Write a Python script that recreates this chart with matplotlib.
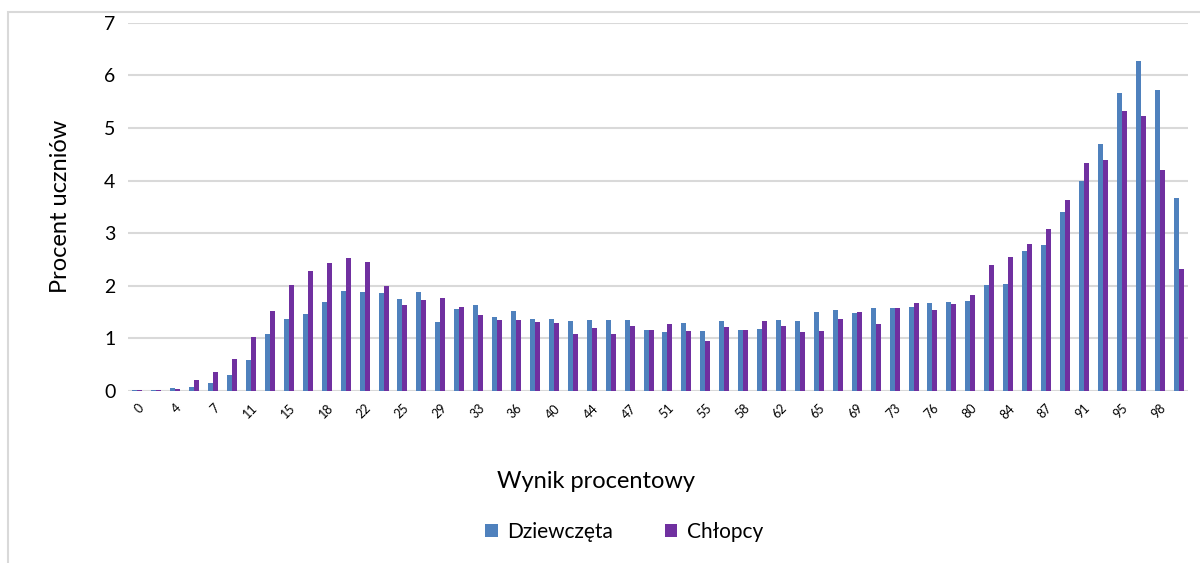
import matplotlib
matplotlib.use("Agg")
import matplotlib.pyplot as plt
import numpy as np
from matplotlib.patches import Rectangle

plt.rcParams['font.family'] = ['Lato', 'DejaVu Sans']

categories = ['0', '2', '4', '5', '7', '9', '11', '13', '15', '16', '18', '20', '22', '24',
              '25', '27', '29', '31', '33', '35', '36', '38', '40', '42', '44', '45', '47', '49',
              '51', '53', '55', '56', '58', '60', '62', '64', '65', '67', '69', '71', '73', '75',
              '76', '78', '80', '82', '84', '85', '87', '89', '91', '93', '95', '96', '98', '100']

dziewczeta = [0.01, 0.01, 0.06, 0.08, 0.15, 0.31, 0.59, 1.09, 1.36, 1.47, 1.70, 1.91, 1.89, 1.87,
              1.75, 1.89, 1.31, 1.56, 1.64, 1.41, 1.52, 1.37, 1.37, 1.33, 1.35, 1.35, 1.35, 1.16,
              1.12, 1.30, 1.14, 1.33, 1.16, 1.18, 1.35, 1.33, 1.50, 1.54, 1.49, 1.58, 1.58, 1.60,
              1.68, 1.70, 1.72, 2.01, 2.03, 2.66, 2.77, 3.40, 3.99, 4.70, 5.66, 6.27, 5.73, 3.67]

chlopcy = [0.01, 0.01, 0.04, 0.20, 0.37, 0.61, 1.03, 1.53, 2.02, 2.29, 2.44, 2.52, 2.46, 1.99,
           1.64, 1.73, 1.77, 1.60, 1.45, 1.35, 1.35, 1.31, 1.30, 1.09, 1.20, 1.09, 1.24, 1.16,
           1.28, 1.14, 0.95, 1.22, 1.16, 1.33, 1.24, 1.12, 1.14, 1.37, 1.50, 1.28, 1.58, 1.68,
           1.54, 1.66, 1.83, 2.39, 2.54, 2.79, 3.08, 3.63, 4.34, 4.39, 5.33, 5.22, 4.20, 2.31]

series_names = ['Dziewczęta', 'Chłopcy']
colors = ['#4f81bd', '#7030a0']

W, H = 1200, 563
fig = plt.figure(figsize=(12, 5.63), dpi=100)
ax = fig.add_axes([128 / W, 1 - 391 / H, (1188 - 128) / W, (391 - 22.7) / H])

x = np.arange(len(categories))
bw = 0.265
ax.bar(x - bw / 2, dziewczeta, width=bw, color=colors[0], label=series_names[0], zorder=3)
ax.bar(x + bw / 2, chlopcy, width=bw, color=colors[1], label=series_names[1], zorder=3)

ax.set_xlim(-0.5, len(categories) - 0.5)
ax.set_ylim(0, 7)
ax.set_yticks(range(0, 8))
ax.yaxis.grid(True, color='#d9d9d9', linewidth=1.5, zorder=0)
ax.set_axisbelow(True)
for s in ax.spines.values():
    s.set_visible(False)
ax.tick_params(axis='y', length=0, labelsize=14, pad=9, colors='black')
ax.set_xticks(x[::2])
ax.set_xticklabels(categories[::2], rotation=45, ha='right', va='top', rotation_mode='anchor', fontsize=9)
ax.tick_params(axis='x', length=0, pad=8)

ax.set_ylabel('Procent uczniów', fontsize=17, labelpad=24)
fig.text(596 / W, 1 - 481 / H, 'Wynik procentowy', fontsize=17, ha='center', va='center')

leg = fig.legend(loc='center', bbox_to_anchor=(624 / W, 1 - 532 / H), ncol=2, frameon=False,
                 fontsize=15, handlelength=0.6, handleheight=0.6, handletextpad=0.45,
                 columnspacing=2.5)

fig.patches.append(Rectangle((8 / W, -0.1), 1.2, (1 - 12 / H) + 0.1, transform=fig.transFigure,
                             fill=False, edgecolor='#d9d9d9', linewidth=1.5))

fig.savefig('out.png', dpi=100)
